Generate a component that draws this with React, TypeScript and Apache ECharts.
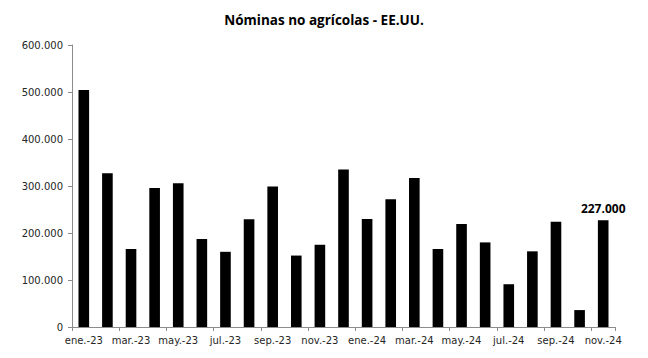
import React, { useEffect, useRef } from "react";
import * as echarts from "echarts";

const categories = [
  "ene.-23", "feb.-23", "mar.-23", "abr.-23", "may.-23", "jun.-23", "jul.-23", "ago.-23",
  "sep.-23", "oct.-23", "nov.-23", "dic.-23", "ene.-24", "feb.-24", "mar.-24", "abr.-24",
  "may.-24", "jun.-24", "jul.-24", "ago.-24", "sep.-24", "oct.-24", "nov.-24",
];
const payrolls = [
  504000, 327000, 166000, 296000, 306000, 187000, 160000, 229000,
  299000, 152000, 175000, 335000, 230000, 272000, 317000, 166000,
  219000, 180000, 91000, 161000, 224000, 36000, 227000,
];
const yTicks = [0, 100000, 200000, 300000, 400000, 500000, 600000];
const titleText = "Nóminas no agrícolas - EE.UU.";

const fmt = (v: number) =>
  String(Math.round(v)).replace(/\B(?=(\d{3})+(?!\d))/g, ".");

export default function App() {
  const ref = useRef<HTMLDivElement>(null);
  useEffect(() => {
    if (!ref.current) return;
    const chart = echarts.init(ref.current, null, { renderer: "svg" });
    const last = payrolls.length - 1;
    chart.setOption({
      animation: false,
      backgroundColor: "#ffffff",
      title: {
        text: titleText,
        left: "center",
        top: 8,
        textStyle: {
          fontFamily: "Open Sans",
          fontWeight: "bold",
          fontSize: 13.5,
          color: "#000000",
        },
      },
      grid: { left: 72, right: 33, top: 45, bottom: 31, containLabel: false },
      xAxis: {
        type: "category",
        data: categories,
        boundaryGap: true,
        axisLine: { show: true, lineStyle: { color: "#8c8c8c", width: 1 } },
        axisTick: { show: true, interval: 1, length: 4, lineStyle: { color: "#8c8c8c" } },
        axisLabel: {
          interval: 1,
          fontFamily: "DejaVu Sans",
          fontSize: 10,
          color: "#262626",
          margin: 8,
        },
        splitLine: { show: false },
      },
      yAxis: {
        type: "value",
        min: yTicks[0],
        max: yTicks[yTicks.length - 1],
        interval: yTicks[1] - yTicks[0],
        axisLine: { show: true, lineStyle: { color: "#8c8c8c", width: 1 } },
        axisTick: { show: true, inside: false, length: 4, lineStyle: { color: "#8c8c8c" } },
        axisLabel: {
          fontFamily: "DejaVu Sans",
          fontSize: 10,
          color: "#262626",
          margin: 9,
          formatter: (v: number) => fmt(v),
        },
        splitLine: { show: false },
      },
      series: [
        {
          type: "bar",
          barWidth: "45%",
          itemStyle: { color: "#000000" },
          data: payrolls.map((v, i) =>
            i === last
              ? {
                  value: v,
                  label: {
                    show: true,
                    position: "top",
                    distance: 6,
                    formatter: (p: any) => fmt(p.value),
                    fontFamily: "Open Sans",
                    fontWeight: "bold",
                    fontSize: 12,
                    color: "#000000",
                  },
                }
              : v
          ),
        },
      ],
    });
    return () => chart.dispose();
  }, []);
  return (
    <div
      ref={ref}
      style={{ position: "fixed", left: 0, top: 0, width: 648, height: 358 }}
    />
  );
}
